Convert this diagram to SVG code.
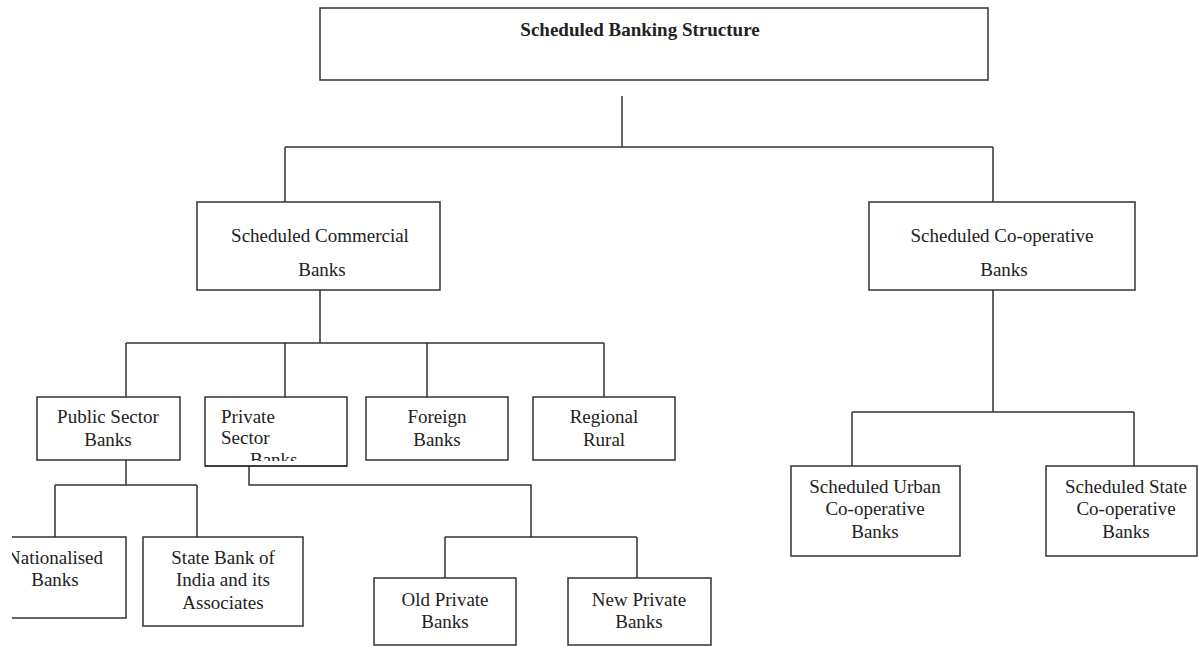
<svg xmlns="http://www.w3.org/2000/svg" width="1199" height="646" viewBox="0 0 1199 646">
<style>
.box{fill:#fff;stroke:#333;stroke-width:1.5}
.ln{fill:none;stroke:#333;stroke-width:1.5}
.t{font-family:"Liberation Serif","Times New Roman",serif;font-size:19px;fill:#222;text-anchor:middle}
.b{font-weight:bold}
</style>
<defs>
<clipPath id="cpNat"><rect x="12" y="500" width="200" height="146"/></clipPath>
<clipPath id="cpPriv"><rect x="200" y="390" width="160" height="71"/></clipPath>
</defs>
<rect width="1199" height="646" fill="#fff"/>
<g id="connectors">
<path class="ln" d="M622 96V147M285 147H993M285 147V202M993 147V202"/>
<path class="ln" d="M320 290V343M126 343H604M126 343V397M285 343V397M427 343V397M604 343V397"/>
<path class="ln" d="M126 460V485M55 485H197M55 485V537M197 485V537"/>
<path class="ln" d="M249 466V485H531V537M445 537H637M445 537V578M637 537V578"/>
<path class="ln" d="M993 290V412M852 412H1134M852 412V466M1134 412V466"/>
</g>
<g id="root"><rect class="box" x="320" y="8" width="668" height="72"/><text class="t b" x="640" y="36">Scheduled Banking Structure</text></g>
<g id="commercial"><rect class="box" x="197" y="202" width="243" height="88"/><text class="t" x="320" y="242">Scheduled Commercial</text><text class="t" x="322" y="276">Banks</text></g>
<g id="cooperative"><rect class="box" x="869" y="202" width="266" height="88"/><text class="t" x="1002" y="242">Scheduled Co-operative</text><text class="t" x="1004" y="276">Banks</text></g>
<g id="public"><rect class="box" x="37" y="397" width="143" height="63"/><text class="t" x="108" y="423">Public Sector</text><text class="t" x="108" y="446">Banks</text></g>
<g id="private"><rect class="box" x="205" y="397" width="142" height="69"/><g clip-path="url(#cpPriv)" style="text-anchor:start"><text class="t" x="221" y="423" style="text-anchor:start">Private</text><text class="t" x="221" y="444" style="text-anchor:start">Sector</text><text class="t" x="250" y="466" style="text-anchor:start">Banks</text></g><path class="ln" d="M205 466H347"/></g>
<g id="foreign"><rect class="box" x="366" y="397" width="142" height="63"/><text class="t" x="437" y="423">Foreign</text><text class="t" x="437" y="446">Banks</text></g>
<g id="rrb"><rect class="box" x="533" y="397" width="142" height="63"/><text class="t" x="604" y="423">Regional</text><text class="t" x="604" y="446">Rural</text></g>
<g id="nationalised" clip-path="url(#cpNat)"><rect class="box" x="-20" y="537" width="146" height="81"/><text class="t" x="55" y="564">Nationalised</text><text class="t" x="55" y="586">Banks</text></g>
<g id="sbi"><rect class="box" x="143" y="537" width="160" height="89"/><text class="t" x="223" y="564">State Bank of</text><text class="t" x="223" y="586">India and its</text><text class="t" x="223" y="609">Associates</text></g>
<g id="oldpriv"><rect class="box" x="374" y="578" width="142" height="67"/><text class="t" x="445" y="606">Old Private</text><text class="t" x="445" y="628">Banks</text></g>
<g id="newpriv"><rect class="box" x="568" y="578" width="143" height="67"/><text class="t" x="639" y="606">New Private</text><text class="t" x="639" y="628">Banks</text></g>
<g id="urban"><rect class="box" x="791" y="466" width="169" height="90"/><text class="t" x="875" y="493">Scheduled Urban</text><text class="t" x="875" y="515">Co-operative</text><text class="t" x="875" y="538">Banks</text></g>
<g id="state"><rect class="box" x="1046" y="466" width="151" height="90"/><text class="t" x="1126" y="493">Scheduled State</text><text class="t" x="1126" y="515">Co-operative</text><text class="t" x="1126" y="538">Banks</text></g>
</svg>
